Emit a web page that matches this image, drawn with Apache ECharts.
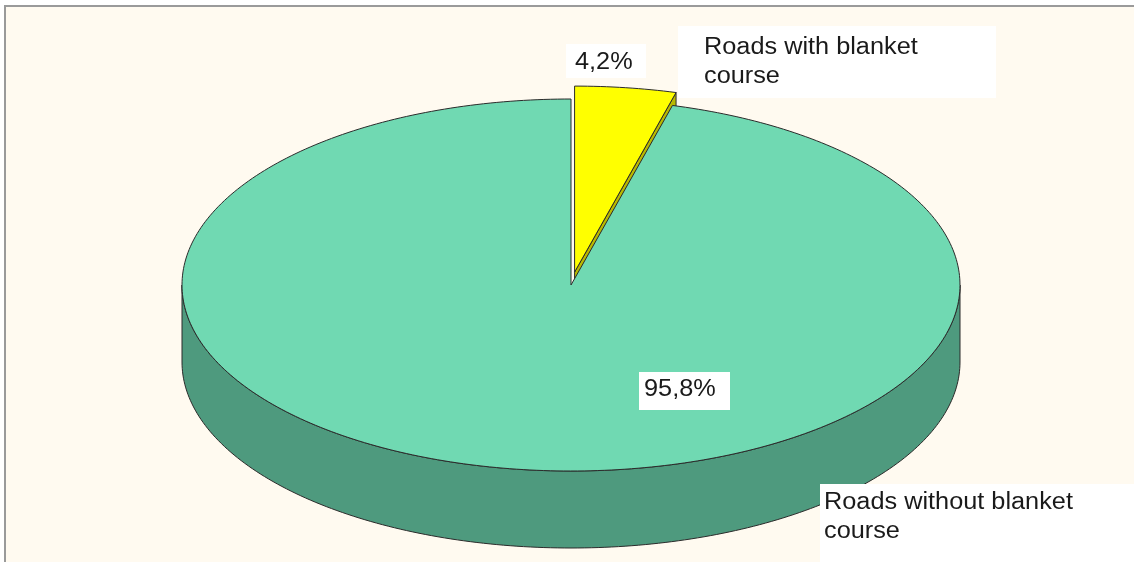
<!DOCTYPE html>
<html>
<head>
<meta charset="utf-8">
<script src="https://cdn.jsdelivr.net/npm/echarts@6/dist/echarts.min.js"></script>
<style>
    html, body {margin: 0; padding: 0; background: #fff;}
    #main {position: absolute; left: 0; top: 0; width: 1134px; height: 562px;}
</style>
</head>
<body>
<div id="main"></div>
<script>
    // data
    var categories = ['Roads with blanket course', 'Roads without blanket course'];
    var shares = [4.2, 95.8];
    var explodeRatio = [0.07, 0];

    var topColors = ['#ffff00', '#70d9b2'];
    var sideColors = ['#b9b900', '#4e9a7e'];
    var lineColor = '#2b2b2b';

    // pie geometry (3d look)
    var cx = 571, cy = 285, rx = 389, ry = 186, depth = 77;
    var total = shares.reduce(function (a, b) { return a + b; }, 0);

    function pt(a, ox, oy, dz) {
        return [cx + ox + rx * Math.sin(a), cy + oy - ry * Math.cos(a) + (dz || 0)];
    }

    function arc(a0, a1, ox, oy, dz) {
        var pts = [];
        var n = Math.max(2, Math.ceil((a1 - a0) / (Math.PI / 180)));
        for (var i = 0; i <= n; i++) {
            pts.push(pt(a0 + (a1 - a0) * i / n, ox, oy, dz));
        }
        return pts;
    }

    function pctText(v) {
        return v.toFixed(1).replace('.', ',') + '%';
    }

    function renderSlice(params, api) {
        var idx = params.dataIndex;
        var before = 0;
        for (var i = 0; i < idx; i++) before += shares[i];
        var a0 = before / total * Math.PI * 2;
        var a1 = (before + api.value(0)) / total * Math.PI * 2;
        var mid = (a0 + a1) / 2;
        var k = explodeRatio[idx];
        var ox = k * rx * Math.sin(mid), oy = -k * ry * Math.cos(mid);
        var children = [];
        var lineStyle = {stroke: lineColor, lineWidth: 1};

        // outer wall, only the front half is visible
        var s0 = Math.max(a0, Math.PI / 2), s1 = Math.min(a1, Math.PI * 1.5);
        if (s1 > s0) {
            var upper = arc(s0, s1, ox, oy, 0);
            var lower = arc(s0, s1, ox, oy, depth).reverse();
            children.push({
                type: 'polygon', z2: 10,
                shape: {points: upper.concat(lower)},
                style: echarts.util.extend({fill: sideColors[idx]}, lineStyle)
            });
        }

        // cut wall of an exploded slice
        if (k > 0) {
            var c = [cx + ox, cy + oy];
            var r = pt(a1, ox, oy, 0);
            children.push({
                type: 'polygon', z2: 5,
                shape: {points: [c, r, [r[0], r[1] + depth], [c[0], c[1] + depth]]},
                style: echarts.util.extend({fill: sideColors[idx]}, lineStyle)
            });
        }

        // top face
        children.push({
            type: 'polygon', z2: k > 0 ? 40 : 30,
            shape: {points: [[cx + ox, cy + oy]].concat(arc(a0, a1, ox, oy, 0))},
            style: echarts.util.extend({fill: topColors[idx]}, lineStyle)
        });

        return {type: 'group', children: children};
    }

    var font = '23px "Liberation Sans", Arial, sans-serif';

    function label(text, x, y, boxX, boxY, boxW, boxH) {
        return [{
            type: 'rect', z: 50,
            shape: {x: boxX, y: boxY, width: boxW, height: boxH},
            style: {fill: '#ffffff'}
        }, {
            type: 'text', z: 51, x: x, y: y, scaleX: 1.1,
            style: {text: text, font: font, fill: '#1a1a1a', lineHeight: 29, verticalAlign: 'top'}
        }];
    }

    var graphics = [
        {type: 'rect', z: -10, shape: {x: 6, y: 7, width: 1128, height: 555}, style: {fill: '#fffaf0'}},
        {type: 'rect', z: -9, shape: {x: 4, y: 5, width: 1130, height: 2}, style: {fill: '#9a9a9a'}},
        {type: 'rect', z: -9, shape: {x: 4, y: 5, width: 2, height: 557}, style: {fill: '#9a9a9a'}}
    ]
        .concat(label(pctText(shares[0]), 575, 48, 566, 44, 80, 34))
        .concat(label('Roads with blanket\ncourse', 704, 33, 678, 26, 318, 72))
        .concat(label(pctText(shares[1]), 644, 375, 639, 372, 91, 38))
        .concat(label('Roads without blanket\ncourse', 824, 488, 820, 484, 314, 78));

    var chart = echarts.init(document.getElementById('main'));
    chart.setOption({
        backgroundColor: '#ffffff',
        animation: false,
        graphic: graphics,
        series: [{
            type: 'custom',
            coordinateSystem: 'none',
            renderItem: renderSlice,
            data: shares.map(function (v, i) { return {name: categories[i], value: [v]}; })
        }]
    });
</script>
</body>
</html>
